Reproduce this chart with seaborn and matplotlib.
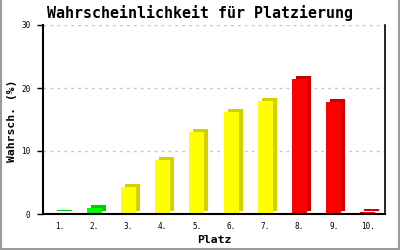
import matplotlib
matplotlib.use("Agg")
import matplotlib.pyplot as plt
import matplotlib.transforms as mtransforms
from matplotlib.patches import Rectangle
from matplotlib.lines import Line2D
import seaborn as sns
import pandas as pd

places = ["1.", "2.", "3.", "4.", "5.", "6.", "7.", "8.", "9.", "10."]
probs = [0.2, 1.0, 4.3, 8.5, 13.0, 16.2, 18.0, 21.4, 17.7, 0.3]
front_colors = ["#00EE00", "#00FF00", "#FFFF00", "#FFFF00", "#FFFF00",
                "#FFFF00", "#FFFF00", "#FF0000", "#FF0000", "#FF0000"]
side_colors = ["#00CC00", "#00CC00", "#D4D000", "#D4D000", "#D4D000",
               "#D4D000", "#D4D000", "#CC0000", "#CC0000", "#CC0000"]
yticks = [0, 10, 20, 30]

sns.set_theme(style="white")
plt.rcParams["font.family"] = ["DejaVu Sans Mono", "DejaVu Sans"]

df = pd.DataFrame({"Platz": places, "Wahrsch": probs})

fig = plt.figure(figsize=(4, 2.5), dpi=100)
fig.patch.set_facecolor("white")
ax = fig.add_axes([43/400, 1-214/250, 342/400, 189/250])

sns.barplot(data=df, x="Platz", y="Wahrsch", hue="Platz", palette=front_colors,
            legend=False, width=0.44, saturation=1, ax=ax)

# 3D depth: offset copy of each bar behind it
offset = mtransforms.ScaledTranslation(4/100, 3/100, fig.dpi_scale_trans)
bars = list(ax.patches)
for patch, sc in zip(bars, side_colors):
    x, y = patch.get_x(), patch.get_y()
    w, h = patch.get_width(), patch.get_height()
    shadow = Rectangle((x, y), w, h, facecolor=sc, edgecolor="none",
                       transform=ax.transData + offset, zorder=2)
    ax.add_patch(shadow)
    patch.set_edgecolor("none")
    patch.set_zorder(3)

ax.set_xlim(-0.5, 9.5)
ax.set_ylim(0, 30)
ax.set_yticks(yticks)
ax.set_yticklabels([str(t) for t in yticks])
ax.set_xlabel("")
ax.set_ylabel("")

for yv in yticks[1:]:
    ax.axhline(yv, color="#C4C4C4", lw=1, ls=(0, (2, 3)), zorder=1)

for s in ["left", "bottom"]:
    ax.spines[s].set_color("black")
    ax.spines[s].set_linewidth(1.5)
    ax.spines[s].set_zorder(5)
ax.spines["right"].set_color("black")
ax.spines["right"].set_linewidth(1.2)
ax.spines["top"].set_visible(False)

ax.tick_params(axis="y", left=True, length=4, width=1, color="black",
               pad=5, labelsize=5.5, labelcolor="black")
ax.tick_params(axis="x", bottom=False, length=0, pad=6, labelsize=5.5,
               labelcolor="black")

fig.text(0.5, 1-13/250, "Wahrscheinlichkeit für Platzierung", ha="center",
         va="center", fontsize=10.8, fontweight="bold", color="black")
fig.text(214/400, 1-240/250, "Platz", ha="center", va="center",
         fontsize=8.2, fontweight="bold", color="black")
fig.text(12/400, 1-121/250, "Wahrsch. (%)", ha="center", va="center",
         rotation=90, fontsize=8.2, fontweight="bold", color="black")

# figure border
for xs, ys in [([0.002, 0.002], [0, 1]), ([0.997, 0.997], [0, 1]), ([0, 1], [0.006, 0.006])]:
    fig.add_artist(Line2D(xs, ys, color="#999999", lw=1.5, transform=fig.transFigure))

fig.savefig("out.png", dpi=100)
